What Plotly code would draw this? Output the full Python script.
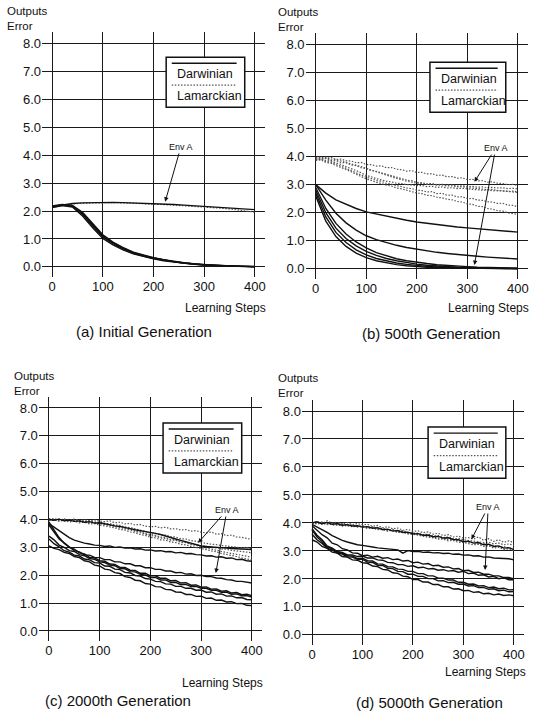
import plotly.graph_objects as go

# ---------------- data ----------------
x20 = list(range(0, 401, 20))
x10 = list(range(0, 401, 10))

# (a) Initial Generation
a_envA_dar = [2.15,2.22,2.27,2.29,2.30,2.31,2.31,2.30,2.29,2.28,2.26,2.25,2.23,2.21,2.19,2.17,2.15,2.13,2.11,2.08,2.05]
a_envA_lam = [2.13,2.20,2.25,2.28,2.29,2.30,2.30,2.29,2.28,2.27,2.25,2.23,2.21,2.19,2.17,2.15,2.12,2.09,2.05,2.01,1.96]
a_dar = [
    [2.15,2.21,2.17,1.88,1.47,1.08,0.84,0.65,0.50,0.39,0.31,0.24,0.19,0.14,0.10,0.07,0.05,0.04,0.03,0.02,0.01],
    [2.18,2.23,2.20,1.95,1.55,1.15,0.89,0.69,0.53,0.42,0.33,0.26,0.20,0.15,0.11,0.08,0.06,0.04,0.03,0.02,0.02],
    [2.12,2.19,2.14,1.82,1.40,1.02,0.79,0.61,0.47,0.37,0.29,0.22,0.17,0.13,0.09,0.07,0.05,0.03,0.02,0.01,0.00],
    [2.16,2.22,2.18,1.91,1.51,1.12,0.86,0.67,0.52,0.40,0.32,0.25,0.19,0.14,0.10,0.08,0.06,0.04,0.03,0.02,0.01],
]
a_lam = [
    [2.14,2.20,2.16,1.86,1.44,1.05,0.82,0.63,0.49,0.38,0.30,0.23,0.18,0.13,0.10,0.07,0.05,0.04,0.03,0.02,0.01],
    [2.17,2.22,2.19,1.93,1.53,1.13,0.87,0.68,0.52,0.41,0.32,0.25,0.19,0.15,0.11,0.08,0.06,0.04,0.03,0.02,0.01],
]

# (b) 500th Generation
b_dar = [
    [3.00,2.70,2.46,2.30,2.15,2.03,1.95,1.87,1.80,1.73,1.67,1.62,1.57,1.53,1.49,1.46,1.43,1.40,1.37,1.34,1.31],
    [3.00,2.45,1.98,1.64,1.38,1.18,1.04,0.93,0.84,0.76,0.70,0.64,0.59,0.55,0.51,0.48,0.45,0.42,0.40,0.37,0.35],
    [2.90,2.15,1.62,1.24,0.96,0.75,0.58,0.46,0.36,0.29,0.23,0.19,0.15,0.12,0.10,0.08,0.06,0.05,0.04,0.03,0.03],
    [2.80,2.00,1.45,1.08,0.82,0.62,0.48,0.37,0.29,0.22,0.17,0.13,0.10,0.08,0.06,0.05,0.04,0.03,0.02,0.02,0.01],
    [2.70,1.85,1.30,0.94,0.68,0.50,0.37,0.28,0.21,0.16,0.12,0.09,0.07,0.05,0.04,0.03,0.03,0.02,0.02,0.01,0.01],
    [2.60,1.70,1.15,0.80,0.56,0.40,0.29,0.21,0.15,0.11,0.08,0.06,0.05,0.04,0.03,0.02,0.02,0.01,0.01,0.01,0.00],
]
b_lam = [
    [3.95,3.98,3.93,3.97,3.90,3.91,3.85,3.84,3.78,3.79,3.72,3.71,3.66,3.67,3.60,3.61,3.55,3.53,3.48,3.50,3.43,3.44,3.38,3.39,3.33,3.34,3.28,3.29,3.23,3.24,3.18,3.19,3.13,3.14,3.09,3.10,3.05,3.04,3.00,3.01,2.97],
    [3.92,3.90,3.94,3.86,3.85,3.79,3.78,3.70,3.68,3.60,3.57,3.50,3.47,3.41,3.37,3.32,3.27,3.23,3.16,3.14,3.08,3.07,3.03,3.04,3.00,3.01,2.98,2.99,2.95,2.96,2.93,2.94,2.91,2.92,2.89,2.90,2.88,2.89,2.86,2.87,2.85],
    [3.90,3.93,3.86,3.84,3.77,3.72,3.64,3.58,3.50,3.42,3.33,3.28,3.21,3.17,3.12,3.10,3.05,3.04,3.00,2.99,2.96,2.97,2.93,2.94,2.90,2.92,2.88,2.89,2.86,2.87,2.84,2.83,2.82,2.80,2.81,2.78,2.79,2.77,2.76,2.77,2.74],
    [3.88,3.91,3.82,3.80,3.71,3.66,3.58,3.50,3.44,3.35,3.26,3.22,3.14,3.12,3.04,3.02,2.96,2.93,2.88,2.86,2.80,2.79,2.74,2.75,2.68,2.69,2.62,2.63,2.56,2.57,2.50,2.51,2.45,2.44,2.39,2.38,2.33,2.34,2.27,2.26,2.21],
    [3.86,3.88,3.80,3.76,3.68,3.62,3.54,3.46,3.38,3.30,3.20,3.15,3.08,3.04,2.98,2.95,2.88,2.85,2.79,2.75,2.70,2.68,2.62,2.61,2.55,2.53,2.48,2.46,2.40,2.38,2.31,2.30,2.23,2.22,2.15,2.13,2.07,2.06,2.00,1.98,1.94],
    [3.96,3.94,3.97,3.91,3.89,3.84,3.80,3.76,3.70,3.64,3.58,3.52,3.46,3.40,3.33,3.28,3.22,3.18,3.12,3.09,3.05,3.04,3.01,3.02,2.98,2.99,2.95,2.96,2.92,2.93,2.89,2.88,2.86,2.85,2.82,2.83,2.79,2.78,2.76,2.75,2.72],
]

# (c) 2000th Generation
c_lam = [
    [4.00,4.03,3.98,4.02,3.97,4.01,3.96,3.99,3.95,3.98,3.94,3.92,3.95,3.88,3.90,3.84,3.86,3.80,3.82,3.76,3.74,3.75,3.70,3.72,3.66,3.67,3.62,3.64,3.58,3.60,3.54,3.52,3.55,3.47,3.49,3.42,3.44,3.37,3.36,3.31,3.28],
    [4.02,3.98,4.01,3.96,3.99,3.95,3.97,3.93,3.95,3.91,3.90,3.86,3.85,3.80,3.79,3.73,3.71,3.66,3.63,3.57,3.52,3.50,3.45,3.44,3.38,3.37,3.31,3.30,3.24,3.22,3.16,3.15,3.11,3.10,3.06,3.05,3.02,3.01,2.98,2.99,2.95],
    [3.98,4.01,3.96,3.99,3.94,3.97,3.92,3.93,3.88,3.89,3.85,3.82,3.78,3.76,3.70,3.68,3.62,3.58,3.53,3.48,3.42,3.40,3.34,3.32,3.26,3.25,3.19,3.18,3.12,3.10,3.05,3.04,2.99,2.98,2.94,2.93,2.89,2.88,2.85,2.83,2.80],
    [4.01,3.97,4.00,3.95,3.98,3.93,3.96,3.91,3.93,3.88,3.88,3.83,3.81,3.75,3.74,3.67,3.65,3.58,3.56,3.49,3.46,3.43,3.37,3.35,3.28,3.26,3.19,3.17,3.10,3.07,3.01,2.98,2.93,2.90,2.85,2.82,2.78,2.75,2.71,2.68,2.64],
    [3.95,3.99,3.93,3.97,3.91,3.94,3.88,3.90,3.84,3.85,3.80,3.77,3.73,3.70,3.64,3.62,3.55,3.52,3.46,3.43,3.36,3.34,3.27,3.26,3.19,3.17,3.11,3.09,3.03,3.00,2.95,2.92,2.87,2.84,2.78,2.75,2.70,2.67,2.62,2.59,2.55],
]
c_dar = [
    [4.00,3.97,4.01,3.95,3.98,3.93,3.95,3.90,3.92,3.87,3.88,3.84,3.82,3.77,3.75,3.70,3.67,3.63,3.60,3.57,3.55,3.50,3.46,3.40,3.36,3.30,3.25,3.20,3.15,3.10,3.05,3.03,3.01,3.00,2.98,2.97,2.96,2.95,2.93,2.94,2.92],
    [3.85,3.72,3.60,3.46,3.35,3.26,3.20,3.15,3.12,3.08,3.07,3.03,3.05,3.00,3.01,2.97,2.98,2.94,2.95,2.90,2.91,2.87,2.88,2.84,2.85,2.80,2.82,2.77,2.78,2.74,2.73,2.69,2.70,2.65,2.66,2.61,2.62,2.56,2.57,2.52,2.50],
    [3.90,3.60,3.35,3.15,3.02,2.88,2.84,2.73,2.72,2.64,2.63,2.56,2.56,2.48,2.48,2.41,2.41,2.34,2.34,2.27,2.27,2.21,2.21,2.15,2.15,2.09,2.10,2.04,2.05,1.99,2.00,1.95,1.95,1.90,1.89,1.84,1.83,1.78,1.78,1.75,1.72],
    [3.80,3.55,3.30,3.16,3.00,2.94,2.80,2.76,2.64,2.62,2.52,2.50,2.40,2.39,2.28,2.28,2.18,2.17,2.07,2.07,1.98,1.98,1.89,1.89,1.80,1.81,1.72,1.73,1.64,1.65,1.57,1.58,1.50,1.51,1.43,1.44,1.36,1.38,1.30,1.32,1.27],
    [3.40,3.27,3.08,3.00,2.88,2.85,2.74,2.70,2.60,2.57,2.48,2.45,2.36,2.34,2.24,2.23,2.13,2.12,2.03,2.01,1.92,1.92,1.83,1.83,1.74,1.74,1.66,1.67,1.59,1.60,1.53,1.53,1.46,1.46,1.39,1.39,1.32,1.33,1.26,1.27,1.22],
    [3.30,3.13,3.02,2.88,2.83,2.72,2.69,2.58,2.55,2.45,2.44,2.33,2.32,2.22,2.20,2.10,2.08,1.99,1.97,1.88,1.86,1.78,1.77,1.69,1.68,1.60,1.60,1.53,1.53,1.46,1.47,1.39,1.40,1.32,1.33,1.25,1.26,1.19,1.20,1.13,1.12],
    [3.05,2.96,2.92,2.82,2.78,2.67,2.63,2.52,2.48,2.36,2.33,2.22,2.19,2.09,2.06,1.95,1.92,1.82,1.80,1.70,1.68,1.59,1.58,1.49,1.48,1.40,1.39,1.31,1.31,1.24,1.25,1.17,1.18,1.10,1.11,1.04,1.05,0.98,0.99,0.92,0.91],
]

# (d) 5000th Generation
d_lam = [
    [4.00,4.05,3.98,4.08,3.99,4.03,3.96,4.01,3.94,3.98,3.93,3.95,3.88,3.91,3.83,3.87,3.79,3.82,3.74,3.77,3.70,3.72,3.65,3.68,3.60,3.63,3.55,3.58,3.50,3.53,3.46,3.48,3.42,3.50,3.38,3.44,3.34,3.40,3.31,3.36,3.30],
    [4.02,3.98,4.04,3.96,4.00,3.93,3.97,3.90,3.94,3.87,3.90,3.85,3.86,3.80,3.82,3.75,3.77,3.71,3.73,3.66,3.65,3.63,3.58,3.60,3.53,3.55,3.48,3.50,3.43,3.45,3.40,3.38,3.35,3.33,3.30,3.31,3.26,3.28,3.22,3.25,3.20],
    [3.98,4.02,3.95,3.99,3.92,3.95,3.89,3.92,3.86,3.89,3.87,3.80,3.83,3.76,3.78,3.71,3.74,3.66,3.69,3.62,3.62,3.58,3.55,3.52,3.50,3.46,3.45,3.40,3.41,3.36,3.35,3.30,3.31,3.24,3.26,3.18,3.21,3.13,3.16,3.09,3.10],
    [4.00,3.96,4.01,3.94,3.97,3.91,3.94,3.88,3.91,3.85,3.88,3.82,3.84,3.77,3.79,3.72,3.74,3.66,3.68,3.61,3.60,3.56,3.53,3.49,3.47,3.42,3.42,3.36,3.37,3.31,3.30,3.27,3.22,3.24,3.16,3.19,3.10,3.14,3.05,3.08,3.01],
]
d_dar = [
    [4.00,4.04,3.97,4.02,3.95,3.98,3.92,3.94,3.89,3.90,3.85,3.87,3.81,3.83,3.76,3.78,3.71,3.73,3.66,3.67,3.61,3.62,3.56,3.57,3.51,3.52,3.46,3.47,3.41,3.40,3.33,3.35,3.28,3.30,3.22,3.24,3.16,3.18,3.10,3.12,3.05],
    [3.95,3.86,3.76,3.66,3.55,3.46,3.38,3.32,3.27,3.22,3.20,3.16,3.14,3.11,3.09,3.08,3.05,3.04,2.92,3.01,2.98,2.99,2.95,2.96,2.93,2.94,2.91,2.92,2.88,2.89,2.85,2.86,2.82,2.83,2.78,2.79,2.75,2.74,2.71,2.72,2.68],
    [3.90,3.75,3.58,3.47,3.28,3.22,3.08,3.04,2.93,2.92,2.83,2.85,2.78,2.81,2.74,2.76,2.69,2.71,2.64,2.66,2.58,2.60,2.53,2.55,2.47,2.49,2.42,2.43,2.36,2.37,2.29,2.31,2.23,2.24,2.17,2.17,2.11,2.11,2.05,2.05,2.00],
    [3.80,3.56,3.40,3.18,3.10,2.98,2.95,2.86,2.86,2.80,2.82,2.75,2.75,2.68,2.67,2.59,2.58,2.51,2.51,2.45,2.47,2.40,2.42,2.36,2.37,2.31,2.33,2.28,2.30,2.24,2.27,2.19,2.21,2.13,2.15,2.07,2.09,2.01,2.04,1.97,1.97],
    [3.75,3.50,3.34,3.14,3.08,2.96,2.92,2.83,2.82,2.73,2.74,2.65,2.64,2.54,2.53,2.44,2.43,2.35,2.34,2.27,2.27,2.19,2.19,2.11,2.11,2.03,2.03,1.96,1.96,1.88,1.88,1.81,1.82,1.75,1.76,1.69,1.71,1.65,1.67,1.61,1.62],
    [3.60,3.40,3.27,3.10,3.04,2.92,2.89,2.79,2.78,2.70,2.70,2.60,2.59,2.49,2.48,2.38,2.37,2.27,2.26,2.17,2.17,2.09,2.09,2.01,2.01,1.93,1.94,1.87,1.88,1.81,1.82,1.75,1.76,1.69,1.70,1.63,1.65,1.58,1.60,1.54,1.55],
    [3.40,3.32,3.16,3.09,2.96,2.92,2.80,2.78,2.68,2.67,2.58,2.56,2.46,2.44,2.34,2.32,2.22,2.20,2.10,2.08,1.98,1.98,1.89,1.89,1.80,1.80,1.72,1.72,1.64,1.65,1.58,1.59,1.52,1.54,1.47,1.49,1.43,1.46,1.41,1.43,1.40],
]

y_ticks = [0, 1, 2, 3, 4, 5, 6, 7, 8]
x_ticks = [0, 100, 200, 300, 400]
captions = ["(a) Initial Generation", "(b) 500th Generation",
            "(c) 2000th Generation", "(d) 5000th Generation"]

# ---------------- styling / layout ----------------
W, H = 546, 712
FONT = "Liberation Sans, Arial, Helvetica, sans-serif"
DAR = dict(color="#111111", width=1.4)
LAM = dict(color="#555555", width=1.2, dash="1.5px,1.6px")

fig = go.Figure()

def add_lines(xs, ys_list, line, k):
    for ys in ys_list:
        fig.add_trace(go.Scatter(x=xs, y=ys, mode="lines", line=line,
                                 xaxis="x" + ("" if k == 1 else str(k)),
                                 yaxis="y" + ("" if k == 1 else str(k)),
                                 showlegend=False, hoverinfo="skip"))

# panel a
add_lines(x20, [a_envA_lam] + a_lam, LAM, 1)
add_lines(x20, [a_envA_dar] + a_dar, DAR, 1)
# panel b
add_lines(x10, b_lam, LAM, 2)
add_lines(x20, b_dar, DAR, 2)
# panel c
add_lines(x10, c_lam, LAM, 3)
add_lines(x10, c_dar, DAR, 3)
# panel d
add_lines(x10, d_lam, LAM, 4)
add_lines(x10, d_dar, DAR, 4)

# pixel boxes of plot areas: (left, right, top, bottom)
boxes = [(42, 265, 32, 277), (305.6, 528, 33, 279),
         (38.8, 262, 396.8, 641), (301.9, 524, 399.8, 645)]

layout = dict(width=W, height=H, margin=dict(l=0, r=0, t=0, b=0),
              paper_bgcolor="white", plot_bgcolor="white",
              font=dict(family=FONT, color="#111111"), showlegend=False)

for i, (l, r, t, b) in enumerate(boxes):
    k = i + 1
    sfx = "" if k == 1 else str(k)
    layout["xaxis" + sfx] = dict(domain=[l / W, r / W], range=[-20, 420],
                                 anchor="y" + sfx, tickvals=x_ticks,
                                 showgrid=True, gridcolor="#1a1a1a", gridwidth=1.2,
                                 zeroline=False, showline=False, ticks="",
                                 tickfont=dict(size=13, family=FONT, color="#111"),
                                 fixedrange=True)
    layout["yaxis" + sfx] = dict(domain=[1 - b / H, 1 - t / H], range=[-0.36, 8.4],
                                 anchor="x" + sfx, tickvals=y_ticks, tickformat=".1f",
                                 showgrid=True, gridcolor="#1a1a1a", gridwidth=1.2,
                                 zeroline=False, showline=False, ticks="",
                                 tickfont=dict(size=13, family=FONT, color="#111"),
                                 fixedrange=True)

shapes = []
annotations = []

# legend boxes (data coords: left, right, bottom, top)
leg = [(225, 380, 5.71, 7.50), (226, 376, 5.58, 7.36),
       (225, 380, 5.67, 7.46), (230, 384, 5.60, 7.43)]
for i, (lx, rx, by, ty) in enumerate(leg):
    k = i + 1
    xr = "x" + ("" if k == 1 else str(k))
    yr = "y" + ("" if k == 1 else str(k))
    h = ty - by
    shapes.append(dict(type="rect", xref=xr, yref=yr, x0=lx, x1=rx, y0=by, y1=ty,
                       line=dict(color="#111", width=1.5), fillcolor="white", layer="above"))
    shapes.append(dict(type="line", xref=xr, yref=yr, x0=lx + 11, x1=rx - 16,
                       y0=ty - 0.12 * h, y1=ty - 0.12 * h,
                       line=dict(color="#111", width=1.4), layer="above"))
    shapes.append(dict(type="line", xref=xr, yref=yr, x0=lx + 11, x1=rx - 16,
                       y0=ty - 0.56 * h, y1=ty - 0.56 * h,
                       line=dict(color="#555", width=1.2, dash="1.5px,1.6px"), layer="above"))
    annotations.append(dict(xref=xr, yref=yr, x=lx + 17, y=ty - 0.34 * h, text="Darwinian",
                            showarrow=False, xanchor="left", yanchor="middle",
                            font=dict(size=12.5, family=FONT, color="#111")))
    annotations.append(dict(xref=xr, yref=yr, x=lx + 17, y=ty - 0.78 * h, text="Lamarckian",
                            showarrow=False, xanchor="left", yanchor="middle",
                            font=dict(size=12.5, family=FONT, color="#111")))

# Env A labels: (text x, text y, [tips])
envA = [(254, 4.29, [(223, 2.33)]),
        (356, 4.30, [(314, 3.10), (314, 0.14)]),
        (351, 4.34, [(294, 3.16), (329, 2.08)]),
        (349, 4.57, [(316, 3.42), (343, 2.32)])]
for i, (tx, ty, tips) in enumerate(envA):
    k = i + 1
    xr = "x" + ("" if k == 1 else str(k))
    yr = "y" + ("" if k == 1 else str(k))
    for j, (px, py) in enumerate(tips):
        annotations.append(dict(xref=xr, yref=yr, axref=xr, ayref=yr,
                                x=px, y=py, ax=tx, ay=ty, text="Env A",
                                showarrow=True, arrowhead=2, arrowsize=0.9,
                                arrowwidth=1, arrowcolor="#111",
                                font=dict(size=9, family=FONT,
                                          color="#111" if j == 0 else "rgba(0,0,0,0)")))

# axis titles and captions (pixel positions converted to paper)
def P(x, y):
    return x / W, 1 - y / H

outputs_pos = [(5, 3), (276, 4), (12, 368), (275.7, 370)]
for (x, y) in outputs_pos:
    px, py = P(x, y)
    annotations.append(dict(xref="paper", yref="paper", x=px, y=py, text="Outputs<br>Error",
                            showarrow=False, xanchor="left", yanchor="top", align="left",
                            font=dict(size=11.5, family=FONT, color="#111")))

ls_pos = [(268, 308), (531, 308), (265, 683), (528, 672)]
for (x, y) in ls_pos:
    px, py = P(x, y)
    annotations.append(dict(xref="paper", yref="paper", x=px, y=py, text="Learning Steps",
                            showarrow=False, xanchor="right", yanchor="middle",
                            font=dict(size=12, family=FONT, color="#111")))

cap_pos = [(144, 332), (431, 333), (118, 700), (429, 702)]
for (x, y), txt in zip(cap_pos, captions):
    px, py = P(x, y)
    annotations.append(dict(xref="paper", yref="paper", x=px, y=py, text=txt,
                            showarrow=False, xanchor="center", yanchor="middle",
                            font=dict(size=15, family=FONT, color="#111")))

layout["shapes"] = shapes
layout["annotations"] = annotations
fig.update_layout(**layout)
fig.write_html("out.html")
